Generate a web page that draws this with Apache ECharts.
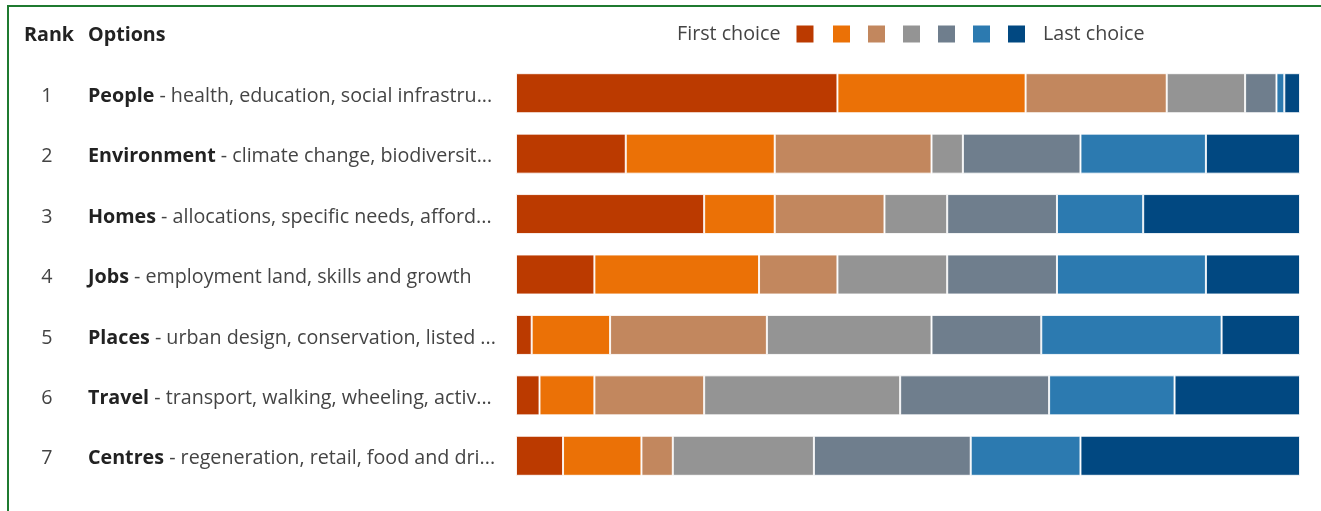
<!DOCTYPE html>
<html>
    <head>
        <meta charset="utf-8">
        <script src="https://cdn.jsdelivr.net/npm/echarts@6/dist/echarts.min.js"></script>
        <style>
            html, body {
                margin: 0;
                padding: 0;
                background-color: #fff;
            }
            #main {
                width: 1321px;
                height: 511px;
            }
        </style>
    </head>
    <body>
        <div id="main"></div>
        <script>
        const ranks = ['1', '2', '3', '4', '5', '6', '7'];
        const optionNames = ['People', 'Environment', 'Homes', 'Jobs', 'Places', 'Travel', 'Centres'];
        const optionDetails = [
            'health, education, social infrastru...',
            'climate change, biodiversit...',
            'allocations, specific needs, afford...',
            'employment land, skills and growth',
            'urban design, conservation, listed ...',
            'transport, walking, wheeling, activ...',
            'regeneration, retail, food and dri...'
        ];
        const choiceNames = ['First choice', '2nd choice', '3rd choice', '4th choice', '5th choice', '6th choice', 'Last choice'];
        const choiceColors = ['#bb3a00', '#eb7106', '#c2875e', '#949494', '#6f7e8d', '#2c7ab0', '#014881'];
        // share of votes (%) per choice position, one array per choice, rows in rank order
        const choice1 = [41, 14, 24, 10, 2, 3, 6];
        const choice2 = [24, 19, 9, 21, 10, 7, 10];
        const choice3 = [18, 20, 14, 10, 20, 14, 4];
        const choice4 = [10, 4, 8, 14, 21, 25, 18];
        const choice5 = [4, 15, 14, 14, 14, 19, 20];
        const choice6 = [1, 16, 11, 19, 23, 16, 14];
        const choice7 = [2, 12, 20, 12, 10, 16, 28];
        const choiceValues = [choice1, choice2, choice3, choice4, choice5, choice6, choice7];

        const font = '"Open Sans", "Noto Sans", sans-serif';
        const fs = 19.7;
        const chart = echarts.init(document.getElementById('main'));

        chart.setOption({
            animation: false,
            textStyle: { fontFamily: font },
            grid: { left: 516, right: 21, top: 63, bottom: 25 },
            legend: [
                {
                    data: ['First choice'],
                    left: 672,
                    top: 19,
                    align: 'right',
                    icon: 'rect',
                    itemWidth: 17,
                    itemHeight: 17,
                    itemStyle: { borderWidth: 0 },
                    selectedMode: false,
                    textStyle: { fontSize: fs, color: '#444', fontFamily: font, padding: [0, 11, 0, 0] }
                },
                {
                    data: choiceNames.slice(1),
                    left: 828,
                    top: 19,
                    icon: 'rect',
                    itemWidth: 17,
                    itemHeight: 17,
                    itemGap: 18,
                    itemStyle: { borderWidth: 0 },
                    selectedMode: false,
                    formatter: function (name) {
                        return name === 'Last choice' ? name : '';
                    },
                    textStyle: { fontSize: fs, color: '#444', fontFamily: font, padding: [0, 0, 0, 13] }
                }
            ],
            graphic: [
                {
                    type: 'rect',
                    shape: { x: 8, y: 6, width: 1330, height: 520 },
                    style: { fill: 'none', stroke: '#1f7a30', lineWidth: 2 },
                    silent: true
                },
                {
                    type: 'text',
                    left: 24,
                    top: 25,
                    style: { text: 'Rank', font: 'bold ' + fs + 'px ' + font, fill: '#222' }
                },
                {
                    type: 'text',
                    left: 88,
                    top: 25,
                    style: { text: 'Options', font: 'bold ' + fs + 'px ' + font, fill: '#222' }
                }
            ],
            xAxis: {
                type: 'value',
                min: 0,
                max: 100,
                show: false
            },
            yAxis: {
                type: 'category',
                inverse: true,
                data: ranks,
                axisLine: { show: false },
                axisTick: { show: false },
                axisLabel: {
                    margin: 492,
                    align: 'left',
                    padding: [6, 0, 0, 0],
                    formatter: function (value, idx) {
                        return '{r|' + value + '}{s| }{b|' + optionNames[idx] + '}{t| - ' + optionDetails[idx] + '}';
                    },
                    rich: {
                        r: { width: 46, align: 'center', fontSize: fs, color: '#444', fontFamily: font },
                        s: { width: 18, fontSize: fs },
                        b: { fontSize: fs, fontWeight: 'bold', color: '#222', fontFamily: font },
                        t: { fontSize: fs, color: '#444', fontFamily: font }
                    }
                }
            },
            series: choiceNames.map(function (name, i) {
                return {
                    name: name,
                    type: 'bar',
                    stack: 'rank',
                    barWidth: 40,
                    itemStyle: {
                        color: choiceColors[i],
                        borderColor: 'rgba(255,255,255,0.85)',
                        borderWidth: 1
                    },
                    data: choiceValues[i]
                };
            })
        });
        </script>
    </body>
</html>
